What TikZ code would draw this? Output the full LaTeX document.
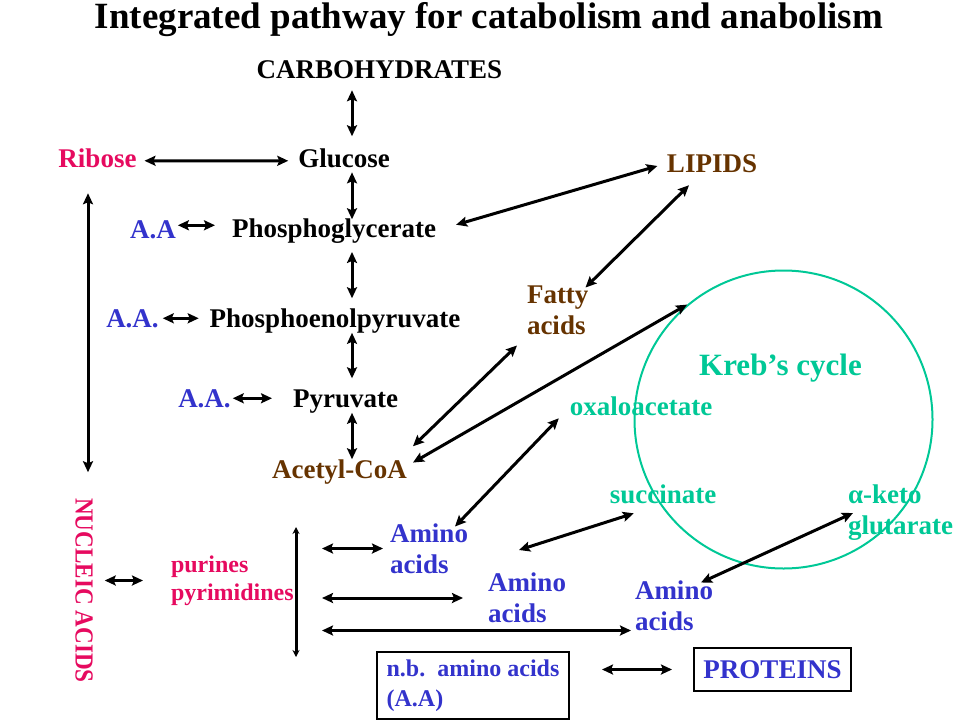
\documentclass[tikz,border=0pt]{standalone}
\usepackage{fontspec}
\setmainfont{Liberation Serif}
\usepackage{tikz}
\usetikzlibrary{arrows.meta, positioning}
\definecolor{riboPink}{RGB}{230,10,95}
\definecolor{aaBlue}{RGB}{51,51,204}
\definecolor{lipidBrown}{RGB}{102,51,0}
\definecolor{krebGreen}{RGB}{0,200,150}

\begin{document}
\begin{tikzpicture}[x=1pt, y=-1pt,
    lbl/.style={inner sep=0pt, outer sep=0pt, anchor=base, font=\bfseries\fontsize{27}{31}\selectfont},
    multi/.style={inner sep=0pt, outer sep=0pt, anchor=west, align=left, font=\bfseries\fontsize{27}{31}\selectfont},
    small/.style={inner sep=0pt, outer sep=0pt, anchor=west, align=left, font=\bfseries\fontsize{24}{28}\selectfont},
    dbl/.style={{Stealth[length=11pt,width=10pt,inset=2pt]}-{Stealth[length=11pt,width=10pt,inset=2pt]}, line width=3pt},
    bar/.style={{Stealth[length=7pt,width=7pt]}-{Stealth[length=7pt,width=7pt]}, line width=3pt},
    box/.style={draw, line width=1.3pt, inner sep=0pt}]
    \useasboundingbox (0,0) rectangle (960,720);

    \node (title) [lbl, font=\bfseries\fontsize{37}{40}\selectfont] at (489,28) {Integrated pathway for catabolism and anabolism};
    \node (carb) [lbl] at (379.5,78) {CARBOHYDRATES};
    \node (ribose) [lbl, text=riboPink] at (97.5,167) {Ribose};
    \node (glucose) [lbl] at (344,167) {Glucose};
    \node (aaOne) [lbl, text=aaBlue] at (153,238) {A.A};
    \node (phosgly) [lbl] at (334,237) {Phosphoglycerate};
    \node (aaTwo) [lbl, text=aaBlue] at (132.5,327) {A.A.};
    \node (pep) [lbl] at (335,327) {Phosphoenolpyruvate};
    \node (aaThree) [lbl, text=aaBlue] at (204.5,407) {A.A.};
    \node (pyruvate) [lbl] at (345.5,407) {Pyruvate};
    \node (acetyl) [lbl, text=lipidBrown] at (339.5,478) {Acetyl-CoA};
    \node (lipids) [lbl, text=lipidBrown] at (712,172) {LIPIDS};
    \node (fatty) [multi, text=lipidBrown] at (527,310) {Fatty\\acids};
    \node (krebring) [draw=krebGreen, line width=2pt, circle, minimum size=298pt, inner sep=0pt] at (783.5,419.5) {};
    \node (kreb) [lbl, text=krebGreen, font=\bfseries\fontsize{31}{34}\selectfont] at (780.5,375) {Kreb's cycle};
    \node (oxalo) [lbl, text=krebGreen] at (641,415) {oxaloacetate};
    \node (succinate) [lbl, text=krebGreen] at (663,503) {succinate};
    \node (aketo) [multi, text=krebGreen] at (848,513) {α-keto\\glutarate};
    \node (aminoOne) [multi, text=aaBlue] at (390,548.5) {Amino\\acids};
    \node (aminoTwo) [multi, text=aaBlue] at (488,598) {Amino\\acids};
    \node (aminoThree) [multi, text=aaBlue] at (635,605.5) {Amino\\acids};
    \node (purines) [small, text=riboPink] at (171,580.5) {purines\\pyrimidines};
    \node (nucleic) [lbl, anchor=center, rotate=-90, text=riboPink, font=\bfseries\fontsize{26}{28}\selectfont] at (84,590.5) {\scalebox{0.89}[1]{NUCLEIC ACIDS}};
    \node (nb) [box, small, anchor=center, minimum width=192pt, minimum height=67pt, text=aaBlue, font=\bfseries\fontsize{24}{30}\selectfont] at (473,685.5) {n.b.~~amino acids\\(A.A)};
    \node (proteins) [box, lbl, anchor=center, minimum width=157pt, minimum height=43pt, text=aaBlue] at (772.5,669.5) {PROTEINS};

    \coordinate (spine) at (352,0);
    \coordinate (barTop) at (296,527);
    \coordinate (barBottom) at (296,657);

    \draw[dbl, shorten <=12pt, shorten >=12pt] (spine |- carb.south) -- (spine |- glucose.north);
    \draw[dbl, shorten <=5pt, shorten >=-1pt] (spine |- glucose.south) -- (spine |- phosgly.north);
    \draw[dbl, shorten <=9pt, shorten >=10pt] (spine |- phosgly.south) -- (spine |- pep.north);
    \draw[dbl, shorten >=11pt] (spine |- pep.south) -- (spine |- pyruvate.north);
    \draw[dbl] (spine |- pyruvate.south) -- (spine |- acetyl.north);

    \draw[dbl, shorten <=8pt, shorten >=10pt] ([yshift=-3pt]ribose.east) -- ([yshift=-3pt]glucose.west);
    \draw[dbl, shorten <=2pt, shorten >=17pt] ([yshift=4pt]aaOne.east) -- ([yshift=4pt]aaOne.east -| phosgly.west);
    \draw[dbl, shorten <=4pt, shorten >=11pt] (aaTwo.east) -- (aaTwo.east -| pep.west);
    \draw[dbl, shorten <=2pt, shorten >=21pt] (aaThree.east) -- (aaThree.east -| pyruvate.west);
    \draw[dbl, shorten <=26pt, shorten >=26pt] ([xshift=4pt]ribose.south -| nucleic.west) -- ([xshift=4pt]nucleic.west);
    \draw[dbl, shorten <=12pt, shorten >=28pt] (purines.west -| nucleic.north) -- (purines.west);

    \draw[bar] (barTop) -- (barBottom);
    \draw[dbl, shorten <=26pt, shorten >=7pt] (aminoOne.west -| barTop) -- (aminoOne.west);
    \draw[dbl, shorten <=26pt, shorten >=25pt] (aminoTwo.west -| barTop) -- (aminoTwo.west);
    \draw[dbl, shorten <=26pt, shorten >=4pt] (aminoThree.south west -| barTop) -- (aminoThree.south west);
    \draw[dbl, shorten <=33pt, shorten >=22pt] (proteins.west -| nb.east) -- (proteins.west);

    \draw[dbl, shorten <=21pt, shorten >=10pt] (phosgly.east) -- (lipids.west);
    \draw[dbl] ([shift={(22,13)}]lipids.south west) -- ([shift={(-3,2)}]fatty.north east);
    \draw[dbl] ([shift={(6,-13)}]acetyl.north east) -- ([shift={(-10,11)}]fatty.south west);
    \draw[dbl] ([shift={(6,-9)}]acetyl.east) -- (krebring.130);
    \draw[dbl] ([shift={(-13,3)}]aminoOne.north east) -- ([shift={(-11,3)}]oxalo.south west);
    \draw[dbl] ([shift={(31,-23)}]aminoTwo.north west) -- ([shift={(24,10)}]succinate.south west);
    \draw[dbl] ([shift={(-12,2)}]aminoThree.north east) -- ([shift={(5,0)}]aketo.west);
\end{tikzpicture}
\end{document}
